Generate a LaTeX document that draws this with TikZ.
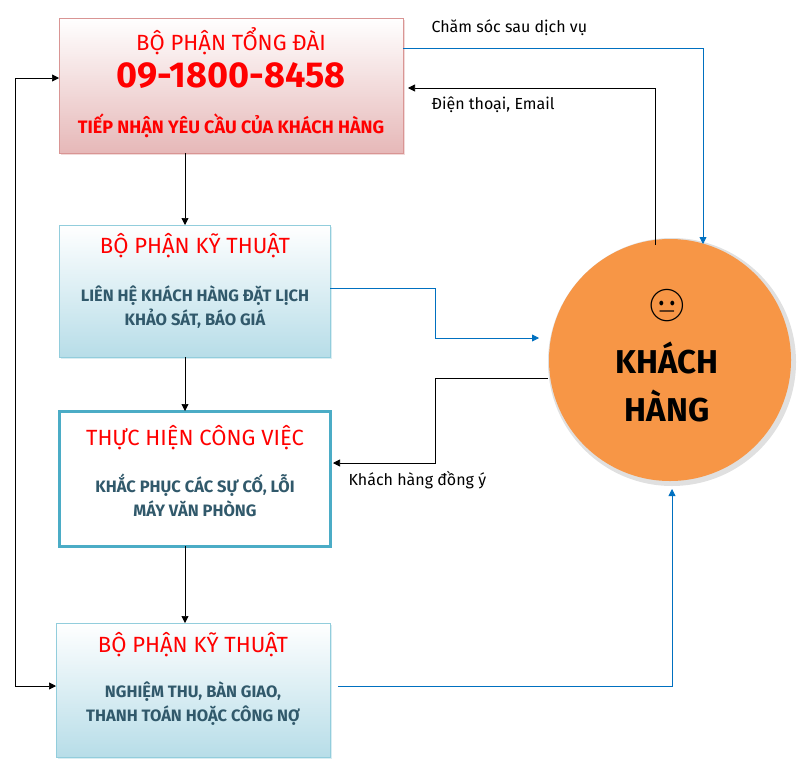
\documentclass[tikz,border=0pt]{standalone}
\usepackage{fontspec}
\setmainfont{Fira Sans}
\newfontfamily\emojifont{Noto Emoji}
\usetikzlibrary{arrows.meta,shadows}
\definecolor{pinkedge}{HTML}{D99594}
\definecolor{pinkfill}{HTML}{E6B8B8}
\definecolor{blueedge}{HTML}{92CDDC}
\definecolor{bluefill}{HTML}{B7DDE8}
\definecolor{tealedge}{HTML}{4BACC6}
\definecolor{bodytext}{HTML}{31596B}
\definecolor{orangefill}{HTML}{F79646}
\definecolor{linkblue}{HTML}{0070C0}
\begin{document}
\begin{tikzpicture}[x=1pt,y=-1pt,
  pinkbox/.style={draw=pinkedge,line width=1pt,top color=white,bottom color=pinkfill,drop shadow={shadow xshift=2pt,shadow yshift=-2pt,fill=pinkedge!70}},
  bluebox/.style={draw=blueedge,line width=1pt,top color=white,bottom color=bluefill,drop shadow={shadow xshift=2pt,shadow yshift=-2pt,fill=blueedge!70}},
  workbox/.style={draw=tealedge,line width=3pt,fill=white},
  title/.style={text=red,font=\fontsize{22}{24}\selectfont},
  body/.style={text=bodytext,font=\bfseries\fontsize{16.5}{24}\selectfont,align=center},
  note/.style={font=\fontsize{16}{18}\selectfont,anchor=west},
  blackarrow/.style={-{Triangle[length=7pt,width=7pt]},black,line width=0.7pt},
  bluearrow/.style={-{Triangle[length=7pt,width=7pt]},linkblue,line width=0.8pt}]
\useasboundingbox (0,0) rectangle (802,771);
% boxes
\draw[pinkbox] (59,18) rectangle (403,153);
\draw[bluebox] (59,225) rectangle (330,357);
\draw[workbox] (59,411) rectangle (330,546);
\draw[bluebox] (56,623) rectangle (330,757);
% texts
\node[title] (t1) at (231,41) {BỘ PHẬN TỔNG ĐÀI};
\node[text=red,font=\bfseries\fontsize{36}{38}\selectfont] (phone) at (231,76) {09-1800-8458};
\node[text=red,font=\bfseries\fontsize{18}{20}\selectfont] (t1b) at (231,126) {TIẾP NHẬN YÊU CẦU CỦA KHÁCH HÀNG};
\node[title] (t2) at (195,246) {BỘ PHẬN KỸ THUẬT};
\node[body] (t2b) at (195,307) {LIÊN HỆ KHÁCH HÀNG ĐẶT LỊCH\\KHẢO SÁT, BÁO GIÁ};
\node[title] (t3) at (195,438) {THỰC HIỆN CÔNG VIỆC};
\node[body] (t3b) at (195,495) {KHẮC PHỤC CÁC SỰ CỐ, LỖI\\MÁY VĂN PHÒNG};
\node[title] (t4) at (193,645) {BỘ PHẬN KỸ THUẬT};
\node[body] (t4b) at (193,704) {NGHIỆM THU, BÀN GIAO,\\THANH TOÁN HOẶC CÔNG NỢ};
% customer
\fill[black!12] (672,362) circle (124);
\fill[orangefill] (670,360) circle (121);
\node[font=\emojifont\fontsize{32}{34}\selectfont] (face) at (667,306) {😐};
\node[font=\bfseries\fontsize{33}{48}\selectfont,align=center] (kh) at (667,382) {KHÁCH\\HÀNG};
% connectors
\draw[blackarrow] (185,153) -- (185,225);
\draw[blackarrow] (185,357) -- (185,411);
\draw[blackarrow] (185,546) -- (185,623);
\draw[{Triangle[length=7pt,width=7pt]}-{Triangle[length=7pt,width=7pt]},line width=0.7pt] (56,686) -- (15,686) -- (15,78) -- (59,78);
\draw[bluearrow] (403,48) -- (703,48) -- (703,244);
\draw[blackarrow] (655,245) -- (655,88) -- (408,88);
\draw[bluearrow] (330,288) -- (435,288) -- (435,338) -- (539,338);
\draw[blackarrow] (548,378) -- (435,378) -- (435,463) -- (333,463);
\draw[bluearrow] (338,686) -- (672,686) -- (672,489);
% labels
\node[note] (l1) at (428,28) {Chăm sóc sau dịch vụ};
\node[note] (l2) at (428,105) {Điện thoại, Email};
\node[note] (l3) at (345,480) {Khách hàng đồng ý};
\end{tikzpicture}
\end{document}
